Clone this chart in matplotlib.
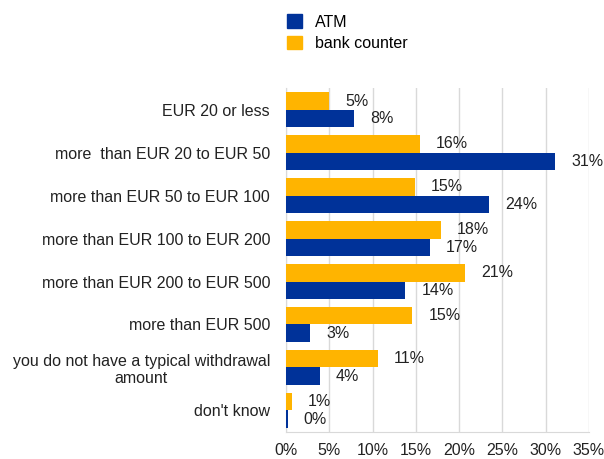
import numpy as np
import matplotlib.pyplot as plt
from matplotlib.patches import Patch

categories = [
    "EUR 20 or less",
    "more  than EUR 20 to EUR 50",
    "more than EUR 50 to EUR 100",
    "more than EUR 100 to EUR 200",
    "more than EUR 200 to EUR 500",
    "more than EUR 500",
    "you do not have a typical withdrawal\namount",
    "don't know",
]
atm = [7.9, 31.1, 23.5, 16.6, 13.8, 2.8, 3.9, 0.2]
bank = [5.0, 15.5, 14.9, 17.9, 20.7, 14.6, 10.6, 0.7]
atm_labels = ["8%", "31%", "24%", "17%", "14%", "3%", "4%", "0%"]
bank_labels = ["5%", "16%", "15%", "18%", "21%", "15%", "11%", "1%"]
xticks = [0, 5, 10, 15, 20, 25, 30, 35]

blue = "#003299"
yellow = "#FFB400"
fs = 11.5

plt.rcParams['font.family'] = ['Liberation Sans', 'DejaVu Sans']

fig = plt.figure(figsize=(6.04, 4.59), dpi=100)
ax = fig.add_axes([0.4735, 0.059, 0.5015, 0.749])

y = np.arange(len(categories))
h = 0.4
ax.barh(y - h / 2, bank, height=h, color=yellow, zorder=3)
ax.barh(y + h / 2, atm, height=h, color=blue, zorder=3)

## value labels sit a little to the right of each bar
for i in range(len(categories)):
    ax.annotate(bank_labels[i], (bank[i], y[i] - h / 2), xytext=(16, 0),
                textcoords="offset pixels", va="center", ha="left", fontsize=fs, color="#222222")
    ax.annotate(atm_labels[i], (atm[i], y[i] + h / 2), xytext=(16, 0),
                textcoords="offset pixels", va="center", ha="left", fontsize=fs, color="#222222")

ax.set_ylim(len(categories) - 0.5, -0.5)
ax.set_xlim(0, 35)
ax.set_yticks(y)
ax.set_yticklabels(categories, fontsize=fs, multialignment="center", color="#222222")
ax.set_xticks(xticks)
ax.set_xticklabels([f"{t}%" for t in xticks], fontsize=fs, color="#222222")
ax.tick_params(axis="y", length=0, pad=11.5)
ax.tick_params(axis="x", length=0, pad=8)

ax.grid(axis="x", color="#d9d9d9", linewidth=1, zorder=0)
for s in ["top", "right"]:
    ax.spines[s].set_visible(False)
ax.spines["left"].set_color("#d9d9d9")
ax.spines["bottom"].set_color("#d9d9d9")

handles = [Patch(color=blue, label="ATM"), Patch(color=yellow, label="bank counter")]
fig.legend(handles=handles, loc="upper left", bbox_to_anchor=(0.452, 1.0), frameon=False,
           fontsize=fs, handlelength=0.9, handleheight=0.9, handletextpad=0.8, labelspacing=0.4)

plt.savefig("out.png", dpi=100)
